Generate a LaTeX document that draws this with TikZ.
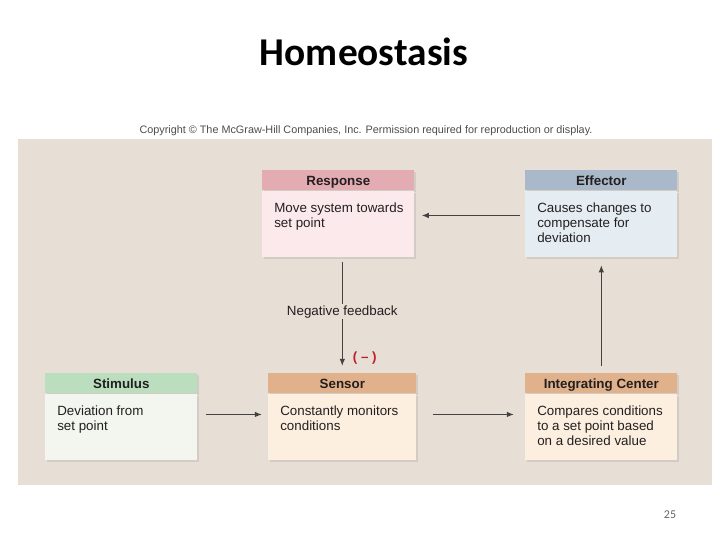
\documentclass[tikz,border=0pt]{standalone}
\usepackage{fontspec}
\setmainfont{Liberation Sans}
\newfontfamily\titlefont{Carlito}
\usepackage{tikz}
\usetikzlibrary{arrows.meta, positioning, shadows}
\definecolor{panelbg}{RGB}{231, 223, 214}
\definecolor{resphead}{RGB}{227, 171, 178}
\definecolor{respbody}{RGB}{252, 233, 235}
\definecolor{effhead}{RGB}{169, 185, 201}
\definecolor{effbody}{RGB}{229, 237, 243}
\definecolor{stimhead}{RGB}{187, 222, 191}
\definecolor{stimbody}{RGB}{242, 246, 238}
\definecolor{senshead}{RGB}{224, 177, 138}
\definecolor{sensbody}{RGB}{253, 239, 223}
\definecolor{ink}{RGB}{35, 31, 32}
\definecolor{minusred}{RGB}{190, 32, 46}
\newcommand{\cardtext}[2][3.8cm]{\parbox[c][1.65cm][t]{#1}{\vspace*{0.3cm}\raggedright\leftskip=0.3cm #2}}

\begin{document}
\begin{tikzpicture}[x=0.025cm, y=-0.025cm,
  head/.style={rectangle, minimum width=3.8cm, minimum height=0.5cm, inner sep=0pt,
               text height=8pt, text depth=1pt,
               anchor=north west, text=ink, font=\bfseries\fontsize{9.5}{11}\selectfont,
               drop shadow={opacity=0.2, shadow xshift=1.5pt, shadow yshift=-1.5pt}},
  card/.style={rectangle, inner sep=0pt,
               text=ink, font=\fontsize{9.5}{10.7}\selectfont,
               drop shadow={opacity=0.2, shadow xshift=1.5pt, shadow yshift=-1.5pt}},
  fb/.style={-{Latex[length=0.18cm, width=0.14cm]}, line width=0.9pt, ink!85},
  fbtext/.style={fill=panelbg, inner sep=1pt, text=ink, font=\fontsize{9.5}{11}\selectfont},
]
\fill[white] (0,0) rectangle (720,540);
\useasboundingbox (0,0) rectangle (720,540);
\node[font=\titlefont\bfseries\fontsize{28}{32}\selectfont, text=black] (title) at (364,52) {Homeostasis};
\node[font=\fontsize{7.7}{9}\selectfont, text=ink!80] (copy) at (366,131)
  {Copyright \textcopyright{} The McGraw-Hill Companies, Inc. Permission required for reproduction or display.};
\fill[panelbg] (18,139) rectangle (712,485);

\node[head, fill=resphead] (Rh) at (262,170) {Response};
\node[card, fill=respbody, below=0pt of Rh] (R) {\cardtext{Move system towards\\set point}};
\node[head, fill=effhead] (Eh) at (525,170) {Effector};
\node[card, fill=effbody, below=0pt of Eh] (E) {\cardtext{Causes changes to\\compensate for\\deviation}};
\node[head, fill=stimhead] (Th) at (45,373) {Stimulus};
\node[card, fill=stimbody, below=0pt of Th] (T) {\cardtext{Deviation from\\set point}};
\node[head, fill=senshead, minimum width=3.7cm] (Sh) at (268,373) {Sensor};
\node[card, fill=sensbody, below=0pt of Sh] (S) {\cardtext[3.7cm]{Constantly monitors\\conditions}};
\node[head, fill=senshead] (Ih) at (525,373) {Integrating Center};
\node[card, fill=sensbody, below=0pt of Ih] (I) {\cardtext{Compares conditions\\to a set point based\\on a desired value}};

\draw[fb, shorten <=0.125cm, shorten >=0.175cm] ([yshift=0.21cm]E.west) -- ([yshift=0.21cm]R.east);
\draw[fb, shorten <=0.125cm, shorten >=0.175cm] (R.south -| Sh.north) --
  node[fbtext, pos=0.47] {Negative feedback}
  node[pos=0.87, right=0.25cm, inner sep=0pt, text=minusred, font=\bfseries\fontsize{9.5}{11}\selectfont] {( -- )} (Sh.north);
\draw[fb, shorten <=0.2cm, shorten >=0.15cm] ([yshift=0.31cm]T.east) -- ([yshift=0.31cm]S.west);
\draw[fb, shorten <=0.4cm, shorten >=0.275cm] ([yshift=0.31cm]S.east) -- ([yshift=0.31cm]I.west);
\draw[fb, shorten <=0.175cm, shorten >=0.2cm] (Ih.north) -- (E.south);

\node[font=\titlefont\fontsize{8.5}{10}\selectfont, text=black!60] (page) at (670,515) {25};
\end{tikzpicture}
\end{document}
